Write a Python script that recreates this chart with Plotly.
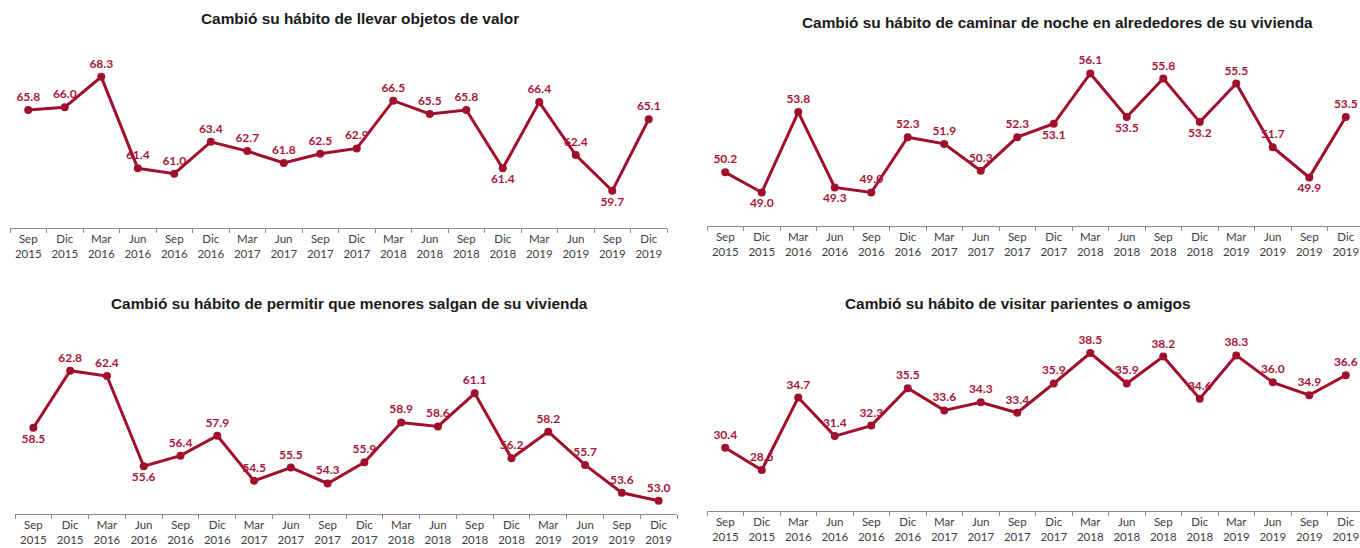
import plotly.graph_objects as go

W, H = 1360, 548

periods = ['Sep<br>2015', 'Dic<br>2015', 'Mar<br>2016', 'Jun<br>2016', 'Sep<br>2016', 'Dic<br>2016',
           'Mar<br>2017', 'Jun<br>2017', 'Sep<br>2017', 'Dic<br>2017', 'Mar<br>2018', 'Jun<br>2018',
           'Sep<br>2018', 'Dic<br>2018', 'Mar<br>2019', 'Jun<br>2019', 'Sep<br>2019', 'Dic<br>2019']

objetos_valor = [65.8, 66.0, 68.3, 61.4, 61.0, 63.4, 62.7, 61.8, 62.5, 62.9, 66.5, 65.5, 65.8, 61.4, 66.4, 62.4, 59.7, 65.1]
caminar_noche = [50.2, 49.0, 53.8, 49.3, 49.0, 52.3, 51.9, 50.3, 52.3, 53.1, 56.1, 53.5, 55.8, 53.2, 55.5, 51.7, 49.9, 53.5]
permitir_menores = [58.5, 62.8, 62.4, 55.6, 56.4, 57.9, 54.5, 55.5, 54.3, 55.9, 58.9, 58.6, 61.1, 56.2, 58.2, 55.7, 53.6, 53.0]
visitar_parientes = [30.4, 28.5, 34.7, 31.4, 32.3, 35.5, 33.6, 34.3, 33.4, 35.9, 38.5, 35.9, 38.2, 34.6, 38.3, 36.0, 34.9, 36.6]

titles = ['Cambió su hábito de llevar objetos de valor',
          'Cambió su hábito de caminar de noche en alrededores de su vivienda',
          'Cambió su hábito de permitir que menores salgan de su vivienda',
          'Cambió su hábito de visitar parientes o amigos']

# label positions: T = above, B = below
pos1 = 'TTTTTTTTTTTTTBTTBT'
pos2 = 'TBTBTTTTTBTBTBTTBT'
pos3 = 'BTTBTTTTTTTTTTTTTT'
pos4 = 'TTTTTTTTTTTTTTTTTT'

line_color = '#a0102c'
label_color = '#a8173a'
axis_color = '#8c8c8c'

# panel geometry in pixels: x0, x1, y_axis, y_top, ymin, ymax, x range end, title x, title y
panels = [
    (10, 667, 228, 54.3, 56.9, 70, 17.5, 360, 19),
    (707, 1360, 226, 58.4, 47, 57, 17.39, 1057, 22),
    (15, 677, 514, 354.8, 52, 64, 17.5, 350, 303),
    (707, 1360, 511, 335.5, 25, 40, 17.39, 1018, 303),
]
series = [objetos_valor, caminar_noche, permitir_menores, visitar_parientes]
positions = [pos1, pos2, pos3, pos4]

fig = go.Figure()
layout = {}
annotations = []

for i, (vals, pos, p, title) in enumerate(zip(series, positions, panels, titles)):
    x0, x1, yax, ytop, ymin, ymax, xend, tx, ty = p
    n = '' if i == 0 else str(i + 1)
    fig.add_trace(go.Scatter(
        x=periods, y=vals,
        xaxis='x' + n, yaxis='y' + n,
        mode='lines+markers+text',
        line=dict(color=line_color, width=3),
        marker=dict(color=line_color, size=8),
        text=[f'{v:.1f}' for v in vals],
        textposition=['top center' if c == 'T' else 'bottom center' for c in pos],
        textfont=dict(family='Lato', size=12, color=label_color, weight='bold'),
        cliponaxis=False,
        showlegend=False,
        hoverinfo='x+y'
    ))
    layout['xaxis' + n] = dict(
        domain=[x0 / W, x1 / W], anchor='y' + n,
        type='category', range=[-0.5, xend],
        showline=True, linecolor=axis_color, linewidth=1,
        ticks='outside', tickson='boundaries', ticklen=4, tickcolor=axis_color,
        showgrid=False, zeroline=False,
        tickfont=dict(family='Lato', size=11.5, color='#404040'),
        fixedrange=True
    )
    layout['yaxis' + n] = dict(
        domain=[(H - yax) / H, (H - ytop) / H], anchor='x' + n,
        range=[ymin, ymax], visible=False, showgrid=False, zeroline=False
    )
    annotations.append(dict(
        text=f'<b>{title}</b>', x=tx / W, y=(H - ty) / H,
        xref='paper', yref='paper', xanchor='center', yanchor='middle',
        showarrow=False,
        font=dict(family='Liberation Sans, Arial', size=15.4, color='#1a1a1a')
    ))

fig.update_layout(
    width=W, height=H,
    margin=dict(l=0, r=0, t=0, b=0),
    paper_bgcolor='white', plot_bgcolor='white',
    annotations=annotations,
    **layout
)

# drop the browser's default body margin so the figure sits at the page corner
fig.write_html('out.html', config={'displayModeBar': False},
               post_script="document.body.style.margin='0';document.body.style.overflow='hidden';")
